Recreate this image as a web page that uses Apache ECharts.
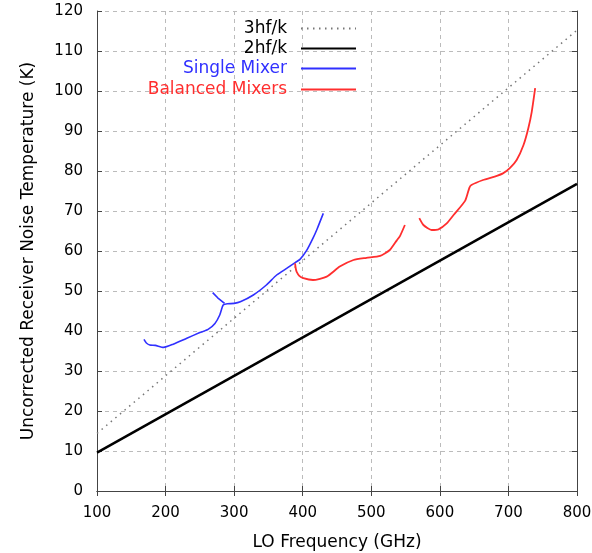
<!DOCTYPE html>
<html>
<head>
<meta charset="utf-8">
<script src="https://cdn.jsdelivr.net/npm/echarts@6/dist/echarts.min.js"></script>
<style>
  html, body { margin: 0; padding: 0; background: #fff; }
  #chart { width: 592px; height: 553px; }
</style>
</head>
<body>
<div id="chart"></div>
<script>
// Valores (GHz, K)
const line3hf = [[100, 14.4], [800, 115.2]]
const line2hf = [[100, 9.6], [800, 76.8]]

const singleMixer = [
  [168.5, 37.9], [172, 37], [177, 36.5], [185, 36.4], [197, 35.9], [211, 36.7],
  [231, 38.2], [250, 39.6], [262, 40.4], [272, 41.9], [279, 44], [284, 46.5],
  [290, 46.8], [300, 46.9], [309, 47.3], [328, 49], [347, 51.5], [362, 54],
  [377, 55.7], [389, 57.1], [396, 57.9], [406, 60.2], [415, 63.2], [421, 65.5], [430, 69.4]
]
const singleMixerSpur = [[268.7, 49.6], [276, 48.3], [286, 46.9]]

const balancedA = [
  [388.8, 56.9], [390, 55.5], [391.2, 54.8], [395, 53.8], [401, 53.2], [415, 52.75],
  [435, 53.6], [454, 56.1], [474, 57.75], [493, 58.3], [513, 58.8], [527, 60.25],
  [537, 62.6], [542, 63.8], [549, 66.5]
]
const balancedB = [
  [570, 68.2], [576, 66.5], [588, 65.25], [598, 65.4], [610, 66.9], [620, 69],
  [637, 72.6], [643, 75.8], [646, 76.5], [663, 77.75], [680, 78.6], [692, 79.4],
  [702, 80.7], [712, 82.75], [722, 86.5], [729, 90.7], [734, 94.8], [739, 100.7]
]

const FONT = 'DejaVu Sans'
const BLUE = '#3030ff'
const RED  = '#ff2e2e'

const frameLine = { show: true, lineStyle: { color: '#444', width: 1 } }
const gridDash  = { show: true, lineStyle: { color: '#bbb', type: [4, 4], width: 1 } }
const tickIn    = { show: true, inside: true, length: 5, lineStyle: { color: '#444' } }

function legendItem(name, top, color) {
  return {
    data: [name], right: 235, top, orient: 'vertical', align: 'right', padding: 0,
    itemWidth: 55, itemHeight: 12, selectedMode: false,
    itemStyle: { opacity: 0 },
    textStyle: { fontFamily: FONT, fontSize: 17, color, padding: [0, 9, 0, 0] },
  }
}

const chart = echarts.init(document.getElementById('chart'))
chart.setOption({
  animation: false,
  grid: { left: 97, right: 15, top: 11, bottom: 62, outerBoundsMode: 'none' },
  legend: [
    legendItem('3hf/k', 20, '#000'),
    legendItem('2hf/k', 40, '#000'),
    legendItem('Single Mixer', 60, BLUE),
    legendItem('Balanced Mixers', 81, RED),
  ],
  xAxis: [
    {
      type: 'value', min: 100, max: 800, interval: 100,
      name: 'LO Frequency (GHz)', nameLocation: 'middle', nameGap: 43,
      nameTextStyle: { fontFamily: FONT, fontSize: 17, color: '#000' },
      axisLine: frameLine, axisTick: tickIn, splitLine: gridDash,
      axisLabel: { fontFamily: FONT, fontSize: 15, color: '#000', margin: 15 },
    },
    {
      type: 'value', min: 100, max: 800, interval: 100, position: 'top',
      axisLine: frameLine, axisTick: tickIn, splitLine: { show: false }, axisLabel: { show: false },
    },
  ],
  yAxis: [
    {
      type: 'value', min: 0, max: 120, interval: 10,
      name: 'Uncorrected Receiver Noise Temperature (K)', nameLocation: 'middle', nameGap: 60,
      nameTextStyle: { fontFamily: FONT, fontSize: 17, color: '#000' },
      axisLine: frameLine, axisTick: tickIn, splitLine: gridDash,
      axisLabel: { fontFamily: FONT, fontSize: 15, color: '#000', margin: 14 },
    },
    {
      type: 'value', min: 0, max: 120, interval: 10, position: 'right',
      axisLine: frameLine, axisTick: tickIn, splitLine: { show: false }, axisLabel: { show: false },
    },
  ],
  series: [
    { name: '3hf/k', type: 'line', data: line3hf, symbol: 'none',
      lineStyle: { color: '#777', width: 1.5, type: [1.5, 4.5] }, itemStyle: { color: '#777' } },
    { name: '2hf/k', type: 'line', data: line2hf, symbol: 'none',
      lineStyle: { color: '#000', width: 2.5 }, itemStyle: { color: '#000' } },
    { name: 'Single Mixer', type: 'line', data: singleMixer, symbol: 'none', smooth: 0.2,
      lineStyle: { color: BLUE, width: 1.6 }, itemStyle: { color: BLUE } },
    { name: 'Single Mixer', type: 'line', data: singleMixerSpur, symbol: 'none',
      lineStyle: { color: BLUE, width: 1.6 }, itemStyle: { color: BLUE } },
    { name: 'Balanced Mixers', type: 'line', data: balancedA, symbol: 'none', smooth: 0.2,
      lineStyle: { color: RED, width: 1.8 }, itemStyle: { color: RED } },
    { name: 'Balanced Mixers', type: 'line', data: balancedB, symbol: 'none', smooth: 0.2,
      lineStyle: { color: RED, width: 1.8 }, itemStyle: { color: RED } },
  ],
})
</script>
</body>
</html>
